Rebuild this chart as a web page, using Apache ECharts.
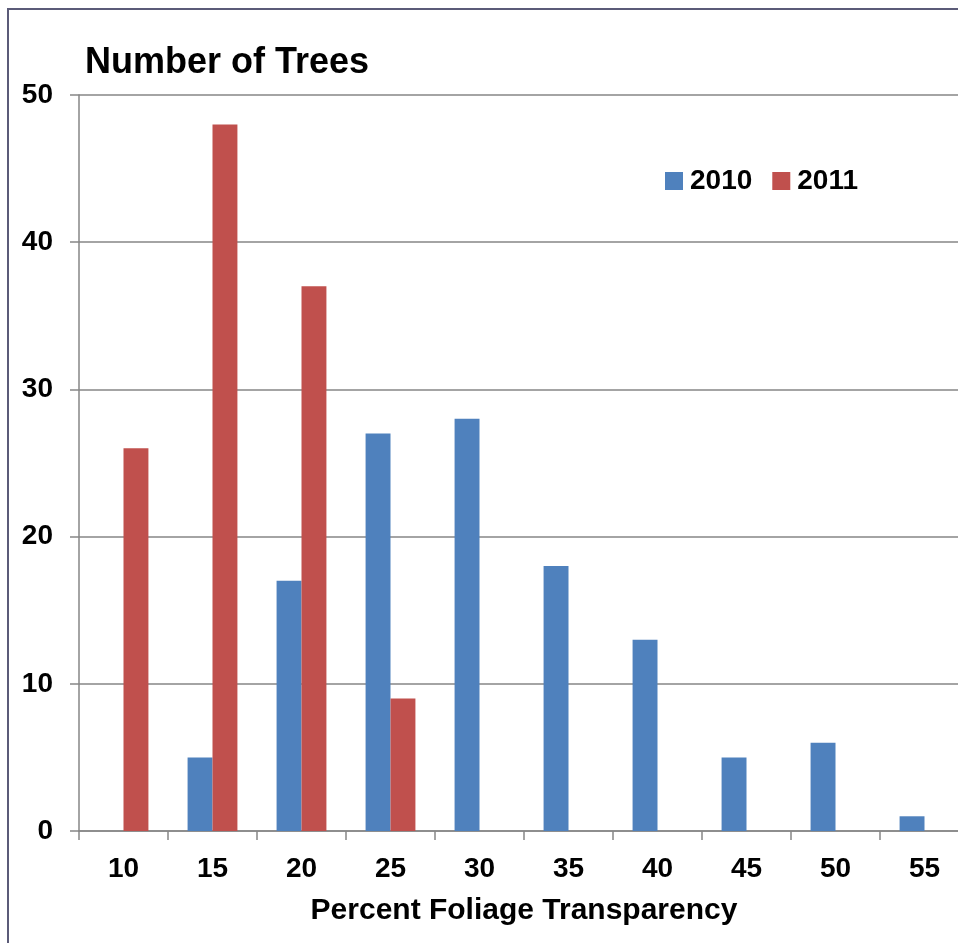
<!DOCTYPE html>
<html>
<head>
<meta charset="utf-8">
<style>
  html, body { margin: 0; padding: 0; background: #ffffff; }
  #chart { width: 958px; height: 943px; }
</style>
<script src="https://cdn.jsdelivr.net/npm/echarts@6/dist/echarts.min.js"></script>
</head>
<body>
<div id="chart"></div>
<script>
// Percent foliage transparency classes
const transparencyClasses = ['10', '15', '20', '25', '30', '35', '40', '45', '50', '55'];
// Number of trees in each class
const trees2010 = [0, 5, 17, 27, 28, 18, 13, 5, 6, 1];
const trees2011 = [26, 48, 37, 9, 0, 0, 0, 0, 0, 0];
const yTicks = { min: 0, max: 50, step: 10 };

const FONT = 'Liberation Sans, Arial, sans-serif';
const GRID_GREY = '#868686';

const chart = echarts.init(document.getElementById('chart'), null, { renderer: 'canvas' });

chart.setOption({
  backgroundColor: '#ffffff',
  animation: false,
  graphic: [{
    type: 'rect',
    silent: true,
    z: 100,
    shape: { x: 8, y: 9, width: 1000, height: 1000 },
    style: { fill: 'none', stroke: '#5b5b78', lineWidth: 2 }
  }],
  title: {
    text: 'Number of Trees',
    left: 80,
    top: 40,
    textStyle: { fontFamily: FONT, fontWeight: 'bold', fontSize: 36, color: '#000' }
  },
  legend: {
    data: ['2010', '2011'],
    left: 660,
    top: 162,
    itemWidth: 18,
    itemHeight: 18,
    itemGap: 20,
    icon: 'rect',
    textStyle: { fontFamily: FONT, fontWeight: 'bold', fontSize: 28, color: '#000', padding: [0, 0, 0, 2] }
  },
  // the plot runs a little past the right edge of the canvas, so the last column is cut
  grid: { left: 79, width: 890, top: 95, bottom: 112, containLabel: false, outerBoundsMode: 'none' },
  xAxis: {
    type: 'category',
    data: transparencyClasses,
    name: 'Percent Foliage Transparency',
    nameLocation: 'middle',
    nameGap: 65,
    nameTextStyle: { fontFamily: FONT, fontWeight: 'bold', fontSize: 30, color: '#000' },
    axisLine: { show: true, lineStyle: { color: GRID_GREY, width: 1.5 } },
    axisTick: { show: true, alignWithLabel: false, length: 9, lineStyle: { color: GRID_GREY, width: 1.5 } },
    axisLabel: { margin: 24, fontFamily: FONT, fontWeight: 'bold', fontSize: 28, color: '#000' },
    splitLine: { show: false }
  },
  yAxis: {
    type: 'value',
    min: yTicks.min,
    max: yTicks.max,
    interval: yTicks.step,
    axisLine: { show: true, lineStyle: { color: GRID_GREY, width: 1.5 } },
    axisTick: { show: true, length: 9, lineStyle: { color: GRID_GREY, width: 1.5 } },
    axisLabel: { margin: 26, fontFamily: FONT, fontWeight: 'bold', fontSize: 28, color: '#000' },
    splitLine: { show: true, lineStyle: { color: GRID_GREY, width: 1.5 } }
  },
  series: [
    {
      name: '2010',
      type: 'bar',
      data: trees2010,
      barGap: '0%',
      barCategoryGap: '44%',
      itemStyle: { color: '#4F81BD' }
    },
    {
      name: '2011',
      type: 'bar',
      data: trees2011,
      barGap: '0%',
      barCategoryGap: '44%',
      itemStyle: { color: '#C0504D' }
    }
  ]
});
</script>
</body>
</html>
